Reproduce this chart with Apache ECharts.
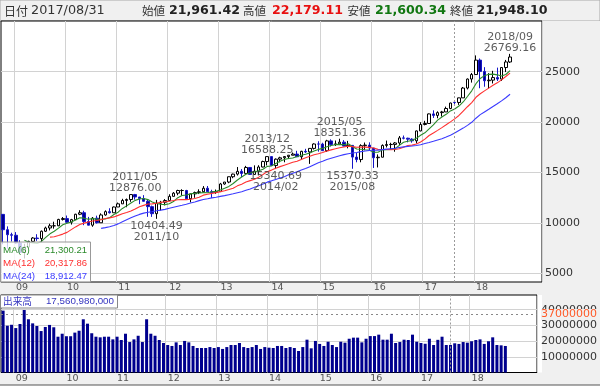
<!DOCTYPE html>
<html><head><meta charset="utf-8">
<script src="https://cdn.jsdelivr.net/npm/echarts@6/dist/echarts.min.js"></script>
<style>html,body{margin:0;padding:0;background:#fff}#c{width:600px;height:387px}</style>
</head><body><div id="c"></div><script>
// ---- data ----
const firstYear = 2008, firstMonth = 10, dataMonths = 120, emptySlots = 7;
const open = [10847,9325,8829,8772,8001,7063,7609,8168,8500,8447,9172,9496,9712,9713,10345,10428,10067,10325,10857,11009,10137,9774,10466,10015,10788,11118,11006,11578,11892,12226,12320,12811,12570,12414,12144,11614,10913,11955,12046,12218,12633,12952,13212,13214,12393,12880,13009,13091,13437,13096,13026,13104,13861,14054,14579,14840,15116,14910,15500,14810,15130,15546,16086,16577,15699,16322,16458,16581,16717,16827,16563,17098,17043,17391,17828,17823,17165,18133,17776,17841,18011,17620,17690,16528,16284.70,17663.54,17719.92,17425.03,16466.30,16516.50,17685.09,17773.64,17787.20,17929.99,18432.24,18400.88,18308.15,18142.42,19123.58,19762.60,19864.09,20812.24,20663.22,20940.51,21008.65,21349.63,21961.42,21948.10,22405,23377,24272,24719,26149,25029,24103,24163,24416,24271,25415,25965];
const high = [10883,9654,9026,9088,8280,7925,8231,8588,8878,9245,9630,9917,10119,10406,10580,10730,10402,10905,11258,11205,10595,10584,10720,10948,11245,11452,11625,12020,12391,12419,12811,12876,12570,12754,12284,11717,12284,12188,12359,12841,13055,13290,13338,13279,12898,13103,13331,13653,13662,13290,13310,13969,14055,14585,14888,15542,15340,15658,15542,15709,15721,16174,16588.25,16573,16398,16563,16631,16736,16979,17152,17154,17350,17395,17895,18103,17951,18244,18289,18175,18351.36,18213,18137,17712,16933,17799,17977,17997,17425,16795,17790,18168,17952,18017,18622,18668,18450,18399,19152,19987,20125,20851,21169,21070,21113,21535,21929,22179.11,22420,23485,24328,24876,26617,26307,25450,24858,25087,25403,25462,26168,26769.16];
const low = [7882,7449,8149,7909,6952,6470,7490,8087,8221,8088,9098,9253,9430,9678,10236,10025,9836,10325,10768,9774,9758,9614,9936,10015,10712,10929,11006,11578,11892,11555,12093,12309,11862,12125,10605,10597,10404.49,11232,11735,12218,12633,12743,12710,12393,12036,12493,12860,13035,13052,12471,12883,13104,13784,13937,14434,14700,14551,14910,14760,14777,14719,15509,15703,15699,15340.69,16015,16015,16334,16704,16563,16334,16942,15855,17282,17068,17136,17038,17580,17634,17723,17595,17399,15370.33,16013,16013,17210,17139,15451,15503,16507,17484,17331,17063,17713,18288,17992,17959,17884,19089,19678,19831,20412,20380,20554,21009,21279,21600.34,21709,22405,23242,23921,24719,23360,23509,23344,23832,24078,24077,24965,25868];
const close = [9325,8829,8776,8001,7063,7609,8168,8500,8447,9172,9496,9712,9713,10345,10428,10067,10325,10857,11009,10137,9774,10466,10015,10788,11118,11006,11578,11892,12226,12320,12811,12570,12414,12144,11614,10913,11955,12046,12218,12633,12952,13212,13214,12393,12880,13009,13091,13437,13096,13026,13104,13861,14054,14579,14840,15116,14910,15500,14810,15130,15546,16086,16577,15699,16322,16458,16581,16717,16827,16563,17098,17043,17391,17828,17823,17165,18133,17776,17841,18011,17620,17690,16528,16284.70,17663.54,17719.92,17425.03,16466.30,16516.50,17685.09,17773.64,17787.20,17929.99,18432.24,18400.88,18308.15,18142.42,19123.58,19762.60,19864.09,20812.24,20663.22,20940.51,21008.65,21349.63,21891.12,21948.10,22405,23377,24272,24719,26149,25029,24103,24163,24416,24271,25415,25965,26458];
// volume (axis unit: thousand shares)
const volume = [39400000,29800000,30400000,28300000,30900000,39800000,33900000,31300000,29600000,26400000,29000000,30300000,28800000,22800000,24700000,23100000,23100000,25400000,26600000,33900000,31100000,25000000,22800000,22400000,22800000,22800000,21100000,22800000,20700000,24700000,19400000,21100000,23400000,19400000,33900000,24700000,23400000,
20700000,18800000,17500000,16900000,19200000,17500000,20100000,19200000,16900000,15600000,15600000,15600000,16200000,15600000,16200000,15000000,16200000,17500000,17500000,18800000,16200000,15600000,16200000,17500000,15000000,16200000,15800000,15600000,16900000,16900000,15600000,16200000,15600000,13700000,16200000,
20900000,15400000,20100000,18200000,16900000,19600000,17500000,16200000,19600000,19000000,21500000,22200000,22200000,19200000,21500000,23200000,23200000,24100000,20900000,20900000,24700000,18800000,19400000,20900000,20700000,24100000,19600000,18800000,18300000,21500000,17500000,20800000,22800000,17500000,17560980,
18600000,18200000,19400000,19000000,19900000,20700000,21100000,18200000,19900000,22400000,17500000,17300000,16900000];
const highMarks = [['2011/05',12876.00],['2013/12',16588.25],['2015/05',18351.36],['2018/09',26769.16]];
const lowMarks = [['2011/10',10404.49],['2014/02',15340.69],['2015/08',15370.33]];
const priceTicks = [5000,10000,15000,20000,25000];
const volumeTicks = [10000000,20000000,30000000,40000000];
const volumeRefLine = 37000000;
const cursorMonth = '2017/08';
const cursorDay = '2017/08/31';
const maPeriods = [6,12,24];
const maColors = ['#2a8a2a','#ff3030','#3a3aff'];

// ---- derived ----
const categories = [];
for (let i = 0; i < dataMonths + emptySlots; i++) {
  const m0 = firstMonth - 1 + i;
  const y = firstYear + Math.floor(m0 / 12), m = m0 % 12 + 1;
  categories.push(y + '/' + (m < 10 ? '0' : '') + m);
}
const candles = open.map((o, i) => [o, close[i], low[i], high[i]]);
function ma(n) {
  return close.map((c, i) => {
    if (i < n - 1) return '-';
    let s = 0; for (let k = i - n + 1; k <= i; k++) s += close[k];
    return Math.round((s / n) * 100 + 1e-6) / 100;
  });
}
const maSeries = maPeriods.map(ma);
const ci = categories.indexOf(cursorMonth);
const fmt = v => v.toLocaleString('en-US', {minimumFractionDigits: 2, maximumFractionDigits: 2});
const isJan = (i) => i < dataMonths && categories[i].endsWith('/01');

const chart = echarts.init(document.getElementById('c'));
const LAT = '"DejaVu Sans"';
const CJK = '"Noto Sans CJK JP"';
const axisLbl = {fontFamily: 'DejaVu Sans', fontSize: 11, color: '#333'};

const xBase = (gi) => ({
  type: 'category', gridIndex: gi, data: categories, boundaryGap: true,
  axisLine: {show: false}, axisTick: {show: false},
  axisLabel: {interval: isJan, formatter: v => v.slice(2, 4), align: 'left', margin: 1,
    fontFamily: 'DejaVu Sans', fontSize: 9.5, color: '#555'},
  splitLine: {show: true, interval: isJan, lineStyle: {color: '#d2d2d2', width: 1}}
});

const graphics = [
  {type: 'rect', z: -10, shape: {x: 0, y: 0, width: 600, height: 21}, style: {fill: '#f0f0f0', stroke: '#a8a8a8', lineWidth: 1}},
  {type: 'rect', z: -10, shape: {x: 542, y: 21, width: 58, height: 364}, style: {fill: '#f0f0f0'}},
  {type: 'rect', z: -10, shape: {x: 0, y: 282, width: 600, height: 13}, style: {fill: '#f0f0f0'}},
  {type: 'rect', z: -10, shape: {x: 0, y: 372.5, width: 600, height: 12.5}, style: {fill: '#f0f0f0'}},
  {type: 'line', z: 5, shape: {x1: 0, y1: 385, x2: 600, y2: 385}, style: {stroke: '#555', lineWidth: 1}},
];
function txt(x, y, text, fill, font, align) {
  graphics.push({type: 'text', z: 120, x: x, y: y, style: {text: text, fill: fill, font: font, align: align || 'left', verticalAlign: 'middle'}});
}
// header
txt(4, 11, '日付', '#333', '12px ' + CJK);
txt(31, 11, cursorDay, '#333', '12.8px ' + LAT);
const hdr = [['始値', open[ci], '#222', 142, 169], ['高値', high[ci], '#e81010', 243, 272], ['安値', low[ci], '#117711', 347.5, 375], ['終値', close[ci], '#222', 450, 476.5]];
hdr.forEach(h => { txt(h[3], 11, h[0], '#333', '11.5px ' + CJK); txt(h[4], 11, fmt(h[1]), h[2], 'bold 12.6px ' + LAT); });
// MA legend
graphics.push({type: 'rect', z: 110, shape: {x: 0.5, y: 242, width: 90, height: 40}, style: {fill: 'rgba(255,255,255,0.78)', stroke: '#999', lineWidth: 1}});
maPeriods.forEach((p, k) => {
  const y = 250 + k * 13;
  txt(3, y, 'MA(' + p + ')', maColors[k], '9.8px "Liberation Sans"');
  txt(87, y, fmt(maSeries[k][ci]), maColors[k], '9.5px "Liberation Sans"', 'right');
});
// volume legend
graphics.push({type: 'rect', z: 110, shape: {x: 0.5, y: 295, width: 117, height: 13}, style: {fill: '#fff', stroke: '#888', lineWidth: 1}});
txt(3, 301.5, '出来高', '#3535c0', '9.7px ' + CJK);
txt(114, 301.5, (volume[ci] * 1000).toLocaleString('en-US'), '#3535c0', '9.8px "Liberation Sans"', 'right');

const annoLabel = {show: true, fontFamily: 'DejaVu Sans', fontSize: 11, lineHeight: 11, color: '#333'};

chart.setOption({
  animation: false,
  backgroundColor: '#fff',
  grid: [
    {left: 1, right: 58, top: 21, bottom: 105, show: true, backgroundColor: '#fff', borderColor: '#000', borderWidth: 1},
    {left: 1, right: 58, top: 295, bottom: 14.5, show: true, backgroundColor: '#fff', borderColor: '#000', borderWidth: 1}
  ],
  xAxis: [xBase(0), xBase(1)],
  yAxis: [
    {type: 'value', gridIndex: 0, position: 'right', min: 4137, max: 30030, scale: true,
      axisLine: {show: false}, axisTick: {show: false, customValues: priceTicks},
      axisLabel: Object.assign({customValues: priceTicks, margin: 3, formatter: v => String(v)}, axisLbl),
      splitLine: {show: true, lineStyle: {color: '#d2d2d2'}}},
    {type: 'value', gridIndex: 1, position: 'right', min: 0, max: 49360000,
      axisLine: {show: false}, axisTick: {show: false, customValues: volumeTicks},
      axisLabel: Object.assign({customValues: volumeTicks, margin: 4, formatter: v => String(v)}, axisLbl),
      splitLine: {show: true, lineStyle: {color: '#d2d2d2'}}}
  ],
  series: [
    {type: 'candlestick', xAxisIndex: 0, yAxisIndex: 0, data: candles, barWidth: 3,
      itemStyle: {color: '#ffffff', color0: '#00008e', borderColor: '#000000', borderColor0: '#1515c8', borderWidth: 1},
      markLine: {silent: true, symbol: 'none', label: {show: false},
        lineStyle: {type: [2, 2], color: '#9a9a9a', width: 1}, data: [{xAxis: cursorMonth}]}},
    ...maSeries.map((d, k) => ({type: 'line', xAxisIndex: 0, yAxisIndex: 0, data: d, symbol: 'none',
      lineStyle: {color: maColors[k], width: 1.1}, z: 3})),
    {type: 'scatter', xAxisIndex: 0, yAxisIndex: 0, symbolSize: 1, itemStyle: {color: 'rgba(0,0,0,0)'}, z: 5,
      data: highMarks.map(m => ({value: [m[0], m[1]], label: Object.assign({position: 'top', distance: 0, formatter: m[0] + '\n' + m[1].toFixed(2)}, annoLabel)}))},
    {type: 'scatter', xAxisIndex: 0, yAxisIndex: 0, symbolSize: 1, itemStyle: {color: 'rgba(0,0,0,0)'}, z: 5,
      data: lowMarks.map(m => ({value: [m[0], m[1]], label: Object.assign({position: 'bottom', distance: 1, formatter: m[1].toFixed(2) + '\n' + m[0]}, annoLabel)}))},
    {type: 'bar', xAxisIndex: 1, yAxisIndex: 1, data: volume, barWidth: 3,
      itemStyle: {color: '#00008e'},
      markLine: {silent: true, symbol: 'none',
        data: [
          {yAxis: volumeRefLine, lineStyle: {type: [2, 3], color: '#888', width: 1},
            label: {show: true, position: 'end', distance: 4, formatter: String(volumeRefLine), color: '#ff5a28', fontFamily: 'DejaVu Sans', fontSize: 11, backgroundColor: '#f0f0f0', padding: [0, 0, 0, 0]}},
          {xAxis: cursorMonth, lineStyle: {type: [2, 2], color: '#9a9a9a', width: 1}, label: {show: false}}
        ]}}
  ],
  graphic: graphics
});
</script></body></html>
